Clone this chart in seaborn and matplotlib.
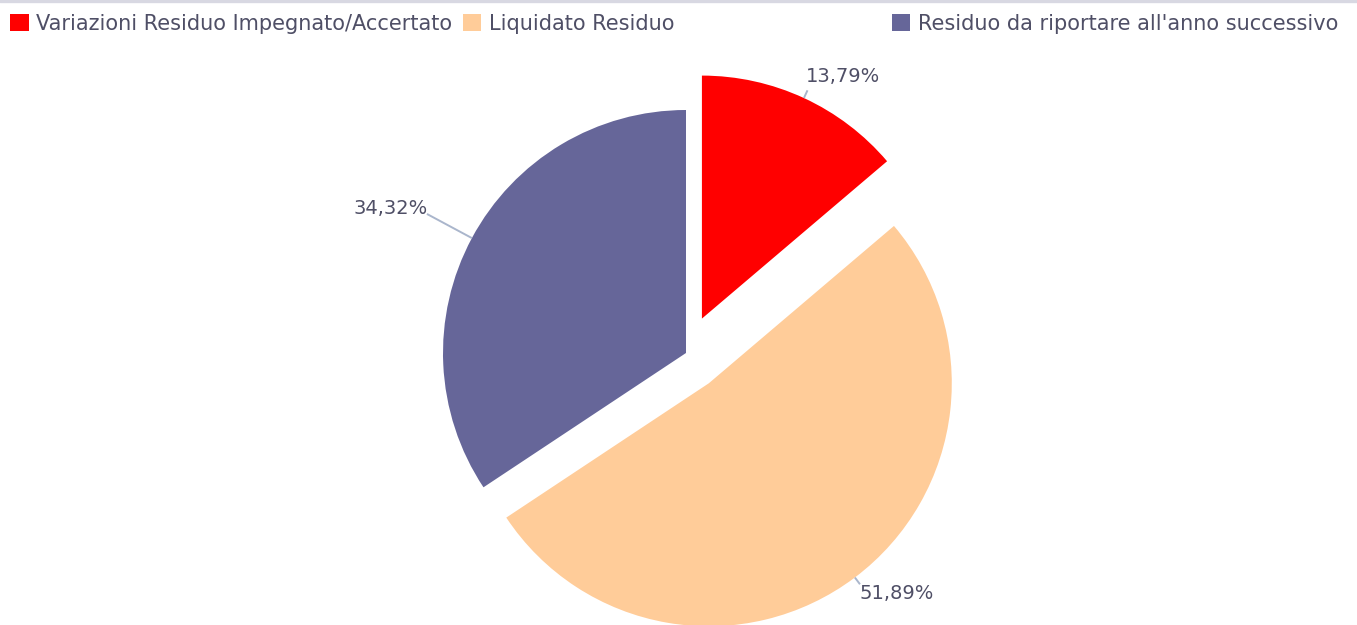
import numpy as np
import matplotlib
matplotlib.use("Agg")
import matplotlib.pyplot as plt
from matplotlib.patches import Patch
import seaborn as sns

# Data
categories = ["Variazioni Residuo Impegnato/Accertato", "Liquidato Residuo",
              "Residuo da riportare all'anno successivo"]
shares = [13.79, 51.89, 34.32]
value_labels = ["13,79%", "51,89%", "34,32%"]

# Styling
colors = ["#FF0000", "#FFCC99", "#666699"]
explode = [0.156, 0.156, 0.0]
text_color = "#4f4f66"
link_color = "#aab6cc"

sns.set_theme(style="white")
plt.rcParams["font.family"] = ["DejaVu Sans"]

W, H = 1357, 625
R = 243.0                 # pie radius in pixels
CX, CY = 686.0, 353.0     # pie centre in pixels from top-left

fig = plt.figure(figsize=(W / 100, H / 100), dpi=100)
ax = fig.add_axes([0, 0, 1, 1])

wedges, _ = ax.pie(shares, colors=colors, startangle=90, counterclock=False,
                   explode=explode, radius=1.0, center=(0, 0),
                   wedgeprops=dict(linewidth=0))

# axis units: 1 unit = one pie radius, origin at pie centre
ax.set_xlim(-CX / R, (W - CX) / R)
ax.set_ylim(-(H - CY) / R, CY / R)
ax.set_aspect("equal")
ax.axis("off")

# label link lines: (end radius of link, text dx, text dy in pixels, ha)
label_style = [
    (1.035, -2, -14, "left"),
    (1.035, 0, 9, "left"),
    (1.21, 1, -5, "right"),
]
for w, lab, (rl, dx, dy, ha) in zip(wedges, value_labels, label_style):
    mid = np.deg2rad((w.theta1 + w.theta2) / 2)
    ox, oy = w.center
    x0, y0 = ox + np.cos(mid), oy + np.sin(mid)
    x1, y1 = ox + rl * np.cos(mid), oy + rl * np.sin(mid)
    ax.plot([x0, x1], [y0, y1], color=link_color, lw=1.4, solid_capstyle="butt")
    ax.text(x1 + dx / R, y1 - dy / R, lab, ha=ha, va="center",
            fontsize=14, color=text_color)

# thin frame line along the top edge
fig.add_artist(plt.Line2D([0, 1], [1 - 1.2 / H, 1 - 1.2 / H], transform=fig.transFigure,
                          color="#d8d8e2", lw=2.4))

handles = [Patch(facecolor=c, edgecolor="none") for c in colors]
leg_kw = dict(frameon=False, fontsize=15, handlelength=0.9, handleheight=0.9,
              handletextpad=0.35, borderpad=0, borderaxespad=0, labelcolor=text_color)
leg1 = fig.legend(handles[:2], categories[:2], ncol=2, columnspacing=0.5,
                  loc="upper left", bbox_to_anchor=(10 / W, 1 - 14 / H), **leg_kw)
leg2 = fig.legend(handles[2:], categories[2:], loc="upper right",
                  bbox_to_anchor=(1338 / W, 1 - 14 / H), **leg_kw)

fig.savefig("out.png", dpi=100, facecolor="white")
